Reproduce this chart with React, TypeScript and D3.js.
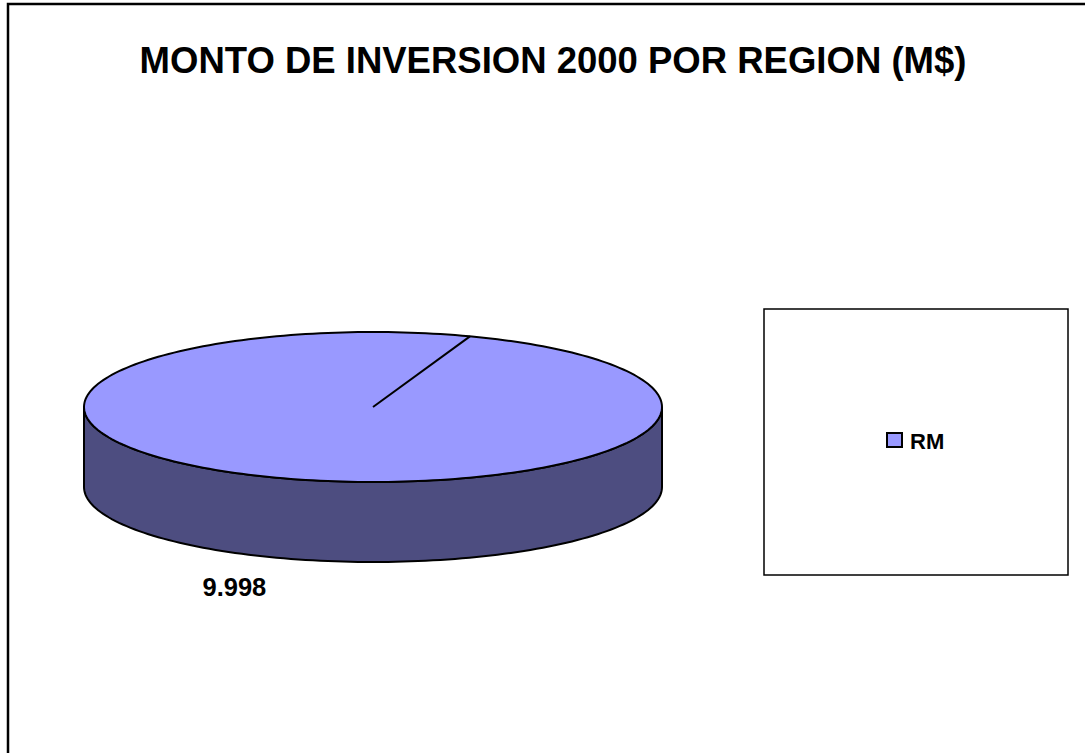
import React from "react";
import * as d3 from "d3";

const title = "MONTO DE INVERSION 2000 POR REGION (M$)";
const categories = ["RM"];
const values = [9998];
const colorsTop = ["#9999FF"];
const colorsSide = ["#4D4D80"];

const W = 1085;
const H = 753;
const cx = 373;
const cy = 407;
const rx = 289;
const ry = 75;
const depth = 80;
const startOffset = (19.6 * Math.PI) / 180;

function pt(a: number, dy = 0): [number, number] {
  return [cx + rx * Math.sin(a), cy - ry * Math.cos(a) + dy];
}

export default function App() {
  const pie = d3
    .pie<number>()
    .sort(null)
    .startAngle(startOffset)
    .endAngle(startOffset + 2 * Math.PI);
  const arcs = pie(values);
  const line = d3.line<[number, number]>();
  const fmt = (v: number) => d3.format(",")(v).replace(/,/g, ".");

  const N = 240;
  const topPts: [number, number][] = d3.range(N + 1).map((i) => pt((i / N) * 2 * Math.PI));
  const frontTop: [number, number][] = d3
    .range(N / 2 + 1)
    .map((i) => pt(Math.PI / 2 + (i / (N / 2)) * Math.PI));
  const frontBot = frontTop.map(([x, y]) => [x, y + depth] as [number, number]).reverse();
  const sidePath = line([...frontTop, ...frontBot])! + "Z";

  return (
    <svg width={W} height={H} style={{ position: "absolute", left: 0, top: 0 }}>
      <rect x={0} y={0} width={W} height={H} fill="#fff" />
      <rect x={8} y={4} width={W + 20} height={H + 20} fill="none" stroke="#000" strokeWidth={2.5} />
      <text
        x={553}
        y={73}
        textAnchor="middle"
        fontFamily="Liberation Sans, Arial, sans-serif"
        fontWeight="bold"
        fontSize={36.5}
        fill="#000"
      >
        {title}
      </text>
      {arcs.map((a, i) => {
        const mid = (a.startAngle + a.endAngle) / 2;
        const lx = cx + rx * Math.sin(mid) * 1.44;
        const ly = cy + depth - ry * Math.cos(mid) * 1.44;
        return (
          <g key={i}>
            <path d={sidePath} fill={colorsSide[i]} stroke="#000" strokeWidth={2} />
            <path d={line(topPts)! + "Z"} fill={colorsTop[i]} stroke="#000" strokeWidth={2} />
            <path d={line([[cx, cy], pt(a.startAngle)])!} stroke="#000" strokeWidth={2} fill="none" />
            <text
              x={lx + 1}
              y={ly + 7}
              textAnchor="middle"
              fontFamily="Liberation Sans, Arial, sans-serif"
              fontWeight="bold"
              fontSize={25.5}
              fill="#000"
            >
              {fmt(values[i])}
            </text>
          </g>
        );
      })}
      <rect x={764} y={309} width={304} height={266} fill="#fff" stroke="#000" strokeWidth={1.5} />
      {categories.map((c, i) => (
        <g key={c} transform={`translate(887,${433 + i * 28})`}>
          <rect x={0} y={0} width={15} height={14} fill={colorsTop[i]} stroke="#000" strokeWidth={2} />
          <text
            x={23}
            y={15.5}
            fontFamily="Liberation Sans, Arial, sans-serif"
            fontWeight="bold"
            fontSize={22}
            fill="#000"
          >
            {c}
          </text>
        </g>
      ))}
    </svg>
  );
}
